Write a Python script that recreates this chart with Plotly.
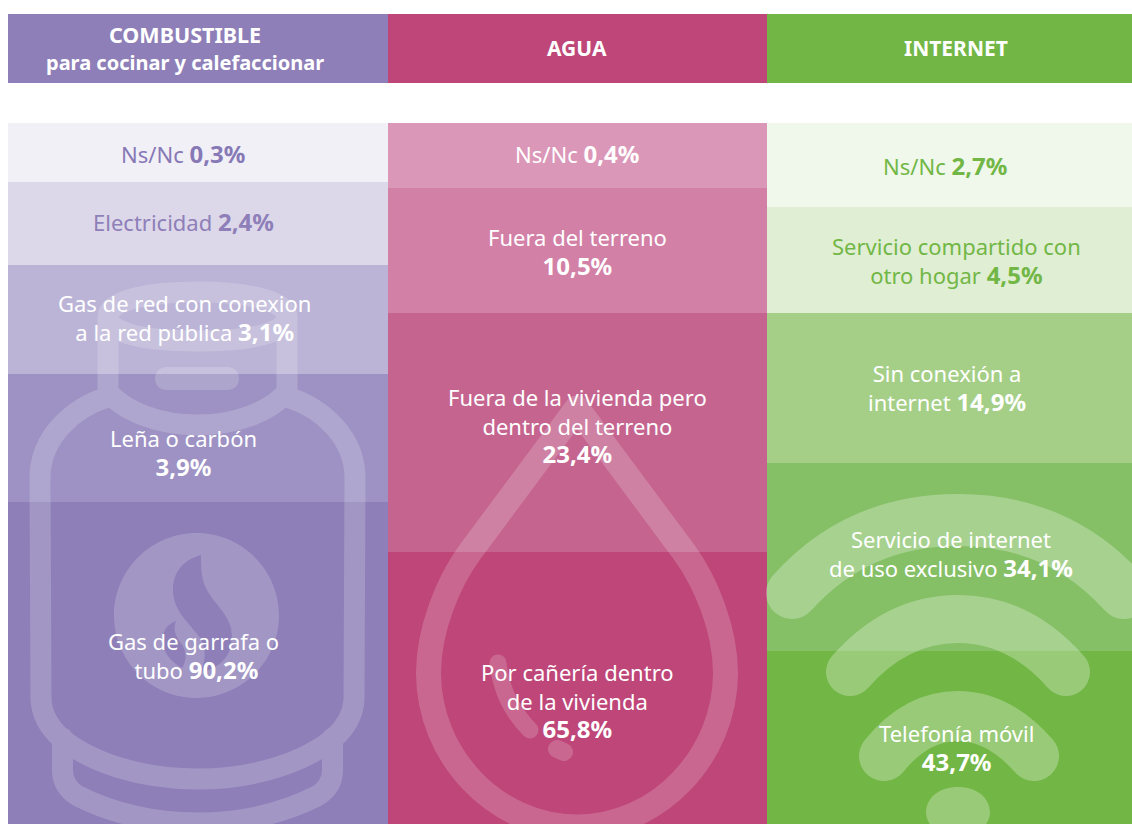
import plotly.graph_objects as go

# ---- data ----
categories = ["COMBUSTIBLE", "AGUA", "INTERNET"]
header_titles = [
    '<b><span style="font-size:21.5px">COMBUSTIBLE</span><br><span style="font-size:20px">para cocinar y calefaccionar</span></b>',
    "<b>AGUA</b>",
    "<b>INTERNET</b>",
]

fuel_labels = ["Ns/Nc {}", "Electricidad {}", "Gas de red con conexion<br>a la red pública {}", "Leña o carbón<br>{}", "Gas de garrafa o<br> tubo {}"]
fuel_values = [0.3, 2.4, 3.1, 3.9, 90.2]
water_labels = ["Ns/Nc {}", "Fuera del terreno<br>{}", "Fuera de la vivienda pero<br>dentro del terreno<br>{}", "Por cañería dentro<br>de la vivienda<br>{}"]
water_values = [0.4, 10.5, 23.4, 65.8]
net_labels = ["Ns/Nc {}", "Servicio compartido con<br>otro hogar {}", "Sin conexión a<br>internet {}", "Servicio de internet<br>de uso exclusivo {}", "Telefonía móvil<br>{}"]
net_values = [2.7, 4.5, 14.9, 34.1, 43.7]

# ---- layout of the graphic (pixels; the source bands are not to scale) ----
W, H = 1132, 824
col_edges = [8, 387.5, 767, 1132]
header_top, header_h = 14, 69
body_top = 123
fuel_h = [59, 83, 109, 128, 322]
water_h = [65, 125, 239, 272]
net_h = [84, 106, 150, 188, 173]

fuel_colors = ["#F2F0F7", "#DCD8EA", "#BBB4D6", "#9D92C3", "#8E7FB8"]
water_colors = ["#DB97B8", "#D380A7", "#C5658F", "#BE4678"]
net_colors = ["#F0F7EB", "#E0EED4", "#A5CF87", "#86C066", "#72B746"]
fuel_text = ["#8679B6", "#8E7FB8", "white", "white", "white"]
water_text = ["white"] * 4
net_text = ["#72B746", "#72B746", "white", "white", "white"]
header_colors = ["#8E7FB8", "#BE4678", "#72B746"]

fuel_centers = [(183, 153), (183, 221), (184, 318), (183, 453), (193, 656)]
water_centers = [(577, 153), (577, 252), (577, 426), (577, 701)]
net_centers = [(945, 165), (956, 261), (947, 388), (951, 554), (956, 748)]
header_centers = [(185, 48), (577, 48), (956, 48)]

FONT = "Noto Sans"
SIZE = 22
BOLD_SIZE = 24

fig = go.Figure()
anns = []


def fmt(v):
    s = f"{v:.1f}%".replace(".", ",")
    return f'<span style="font-size:{BOLD_SIZE}px"><b>{s}</b></span>'


columns = [
    (fuel_labels, fuel_values, fuel_h, fuel_colors, fuel_text, fuel_centers),
    (water_labels, water_values, water_h, water_colors, water_text, water_centers),
    (net_labels, net_values, net_h, net_colors, net_text, net_centers),
]

for i, (labels, values, heights, colors, tcolors, centers) in enumerate(columns):
    x0, x1 = col_edges[i], col_edges[i + 1]
    xc, w = (x0 + x1) / 2, x1 - x0
    fig.add_trace(go.Bar(x=[xc], y=[header_h], base=[header_top], width=[w], name=categories[i],
                         marker=dict(color=header_colors[i], line_width=0), showlegend=False, hoverinfo="skip"))
    anns.append(dict(x=header_centers[i][0], y=header_centers[i][1],
                     text=header_titles[i], showarrow=False, font=dict(family=FONT, size=21, color="white")))
    base = body_top
    for lab, val, h, c, tc, (cx, cy) in zip(labels, values, heights, colors, tcolors, centers):
        fig.add_trace(go.Bar(x=[xc], y=[h], base=[base], width=[w], name=lab.format(val),
                             marker=dict(color=c, line_width=0), showlegend=False,
                             hovertemplate=f"{val}%<extra></extra>"))
        anns.append(dict(x=cx, y=cy, text=lab.format(fmt(val)), showarrow=False,
                         font=dict(family=FONT, size=SIZE, color=tc)))
        base += h

# ---- decorative icons ----
bottle = (
    "M108,317 C108,300 150,292 197.5,292 C245,292 287,300 287,317 C287,334 245,341 197.5,341 C150,341 108,334 108,317 "
    "M108,317 L108,397 M287,317 L287,397 "
    "M108,392 C125,412 160,425 197.5,425 C235,425 270,412 287,392 "
    "M108,397 C72,408 40,438 40,478 L41,700 C42,715 50,728 61,738 C90,762 140,779 197.5,779 "
    "C255,779 305,762 334,738 C345,728 353,715 354,700 L355,478 C355,438 323,408 287,397 "
    "M62.5,738 L62.5,770 C62.5,782 68,790 78,796 C110,812 150,823 197.5,823 "
    "C245,823 285,812 317,796 C327,790 332.5,782 332.5,770 L332.5,738"
)
handle = "M167,367 L227,367 C243,367 243,390 227,390 L167,390 C151,390 151,367 167,367 Z"
badge = (
    "M196.5,533 C242,533 279,570 279,615.5 C279,661 242,698 196.5,698 C151,698 114,661 114,615.5 C114,570 151,533 196.5,533 Z "
    "M201,555 C183,560 173,572 173,590 C173,610 188,622 198,635 C206,645 207,660 200,672 "
    "C225,668 235,650 231,628 C226,608 205,598 202,575 C201,568 201,560 201,555 Z "
    "M176,621 C165,625 161,635 163,645 C165,655 172,662 182,668 C187,660 187,650 180,642 C175,635 173,630 176,621 Z"
)
drop = (
    "M577,408 L470,552 C448,582 428.5,630 428.5,673 C428.5,755 495,827 577,827 "
    "C659,827 725.5,755 725.5,673 C725.5,630 706,582 684,552 Z"
)
drop_mark = "M498,663 C501,690 512,712 530,730"
drop_dot = "M557,749 L564,752"
wifi_arcs = [
    "M792,593 C835,545 890,520 958,520 C1026,520 1081,545 1124,593",
    "M850,672 C880,638 915,619 958,619 C1001,619 1036,638 1066,672",
    "M884,756 C905,730 930,716 958,716 C986,716 1011,730 1034,756",
]
wifi_dot = "M958,787 C976,787 990,797 990,813 C990,820 985,826 978,835 L938,835 C931,826 926,820 926,813 C926,797 940,787 958,787 Z"

shapes = []


def stroke(path, width, op=0.18):
    shapes.append(dict(type="path", path=path, xref="x", yref="y", opacity=op, layer="above",
                       line=dict(color="white", width=width), fillcolor="rgba(0,0,0,0)"))


def fill(path, op=0.18):
    shapes.append(dict(type="path", path=path, xref="x", yref="y", opacity=op, layer="above",
                       line=dict(width=0), fillcolor="white"))


stroke(bottle, 21)
fill(handle)
fill(badge)
stroke(drop, 25)
stroke(drop_mark, 17)
stroke(drop_dot, 18)
for a, wd in zip(wifi_arcs, [52, 48, 50]):
    stroke(a, wd, 0.27)
fill(wifi_dot, 0.27)

fig.update_layout(
    width=W, height=H, margin=dict(l=0, r=0, t=0, b=0), autosize=False,
    paper_bgcolor="white", plot_bgcolor="white", barmode="overlay", bargap=0,
    xaxis=dict(range=[0, W], visible=False, fixedrange=True),
    yaxis=dict(range=[H, 0], visible=False, fixedrange=True),
    annotations=anns, shapes=shapes, showlegend=False,
)

fig.write_html(
    "out.html", config={"displayModeBar": False},
    post_script=(
        "document.body.style.margin='0';document.documentElement.style.overflow='hidden';"
        "var s=document.createElement('style');"
        "s.textContent='.shapelayer path{stroke-linecap:round;stroke-linejoin:round}';"
        "document.head.appendChild(s);"
    ),
)
